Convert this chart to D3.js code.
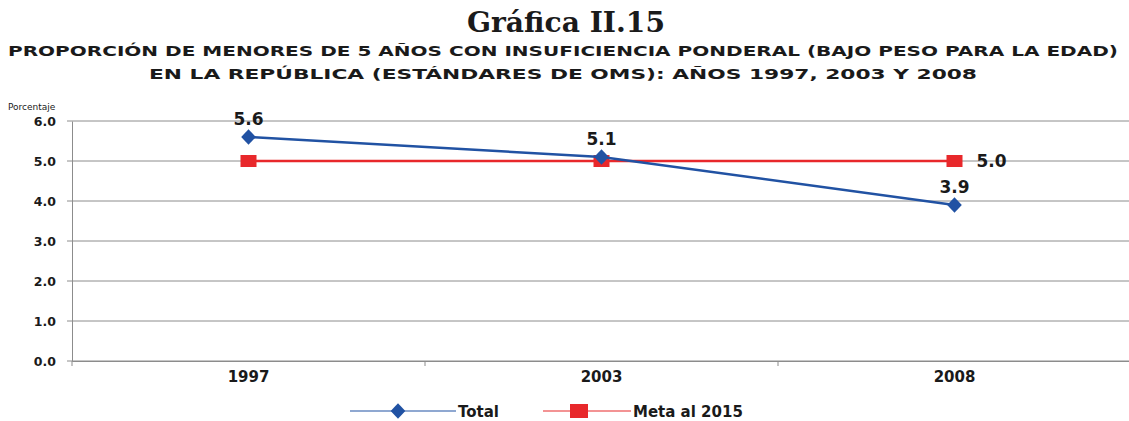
<!DOCTYPE html>
<html>
<head>
<meta charset="utf-8">
<script src="https://cdn.jsdelivr.net/npm/d3@7"></script>
<style>
  body { margin: 0; background: #fff; }
  text { font-family: "DejaVu Sans", Verdana, sans-serif; fill: #1a1a1a; }
</style>
</head>
<body>
<script>
// chart data
const years = ['1997', '2003', '2008'];
const totalValues = [5.6, 5.1, 3.9];
const metaValues = [5.0, 5.0, 5.0];
const yTicks = [0, 1, 2, 3, 4, 5, 6];

const W = 1129, H = 421;
const M = { left: 72, right: -2, top: 121, bottom: 60 };
const innerW = W - M.left - M.right;
const innerH = H - M.top - M.bottom;

const svg = d3.select('body').append('svg')
    .attr('width', W)
    .attr('height', H);

// titles
svg.append('text')
    .attr('x', 566).attr('y', 32)
    .attr('text-anchor', 'middle')
    .attr('textLength', 198)
    .attr('lengthAdjust', 'spacingAndGlyphs')
    .style('font-family', '"DejaVu Serif", serif')
    .style('font-weight', 'bold')
    .style('font-size', '27px')
    .text('Gráfica II.15');

const subtitle = [
    'PROPORCIÓN DE MENORES DE 5 AÑOS CON INSUFICIENCIA PONDERAL (BAJO PESO PARA LA EDAD)',
    'EN LA REPÚBLICA (ESTÁNDARES DE OMS): AÑOS 1997, 2003 Y 2008'
];
const subWidths = [1110, 828];
subtitle.forEach((s, i) => {
    svg.append('text')
        .attr('x', 563).attr('y', 56 + i * 23)
        .attr('text-anchor', 'middle')
        .attr('textLength', subWidths[i])
        .attr('lengthAdjust', 'spacingAndGlyphs')
        .style('font-weight', 'bold')
        .style('font-size', '14.5px')
        .text(s);
});

svg.append('text')
    .attr('x', 8).attr('y', 110)
    .style('font-size', '9px')
    .text('Porcentaje');

const g = svg.append('g').attr('transform', `translate(${M.left},${M.top})`);

const x = d3.scaleBand().domain(years).range([0, innerW]);
const y = d3.scaleLinear().domain([0, 6]).range([innerH, 0]);

// gridlines
g.append('g')
    .selectAll('line')
    .data(yTicks)
    .join('line')
    .attr('x1', -5).attr('x2', innerW)
    .attr('y1', d => y(d)).attr('y2', d => y(d))
    .attr('stroke', '#8c8c8c')
    .attr('stroke-width', 1);

// y axis
const yAxis = g.append('g')
    .call(d3.axisLeft(y).tickValues(yTicks).tickFormat(d3.format('.1f')).tickSize(0).tickPadding(16));
yAxis.select('.domain').attr('stroke', '#8c8c8c');
yAxis.selectAll('text')
    .style('font-weight', 'bold')
    .style('font-size', '12.5px')
    .attr('dy', '0.35em');

// x axis
const xAxis = g.append('g')
    .attr('transform', `translate(0,${innerH})`)
    .call(d3.axisBottom(x).tickSize(0).tickPadding(10));
xAxis.select('.domain').attr('stroke', '#8c8c8c');
xAxis.selectAll('text')
    .style('font-weight', 'bold')
    .style('font-size', '15px');
g.append('g')
    .selectAll('line')
    .data(d3.range(years.length + 1))
    .join('line')
    .attr('x1', d => d * x.bandwidth()).attr('x2', d => d * x.bandwidth())
    .attr('y1', innerH).attr('y2', innerH + 5)
    .attr('stroke', '#8c8c8c');

const cx = d => x(d) + x.bandwidth() / 2;
const line = d3.line().x(d => cx(d[0])).y(d => y(d[1]));

const totalColor = '#2152a3';
const metaColor = '#e8282b';

// Meta series
const metaData = years.map((yr, i) => [yr, metaValues[i]]);
g.append('path')
    .datum(metaData)
    .attr('d', line)
    .attr('fill', 'none')
    .attr('stroke', metaColor)
    .attr('stroke-width', 2.5);
g.selectAll('.meta-pt')
    .data(metaData)
    .join('rect')
    .attr('class', 'meta-pt')
    .attr('x', d => cx(d[0]) - 8)
    .attr('y', d => y(d[1]) - 6)
    .attr('width', 16).attr('height', 12)
    .attr('fill', metaColor);

// Total series
const totalData = years.map((yr, i) => [yr, totalValues[i]]);
g.append('path')
    .datum(totalData)
    .attr('d', line)
    .attr('fill', 'none')
    .attr('stroke', totalColor)
    .attr('stroke-width', 2.5);
const diamond = d3.symbol().type(d3.symbolDiamond).size(110);
g.selectAll('.total-pt')
    .data(totalData)
    .join('path')
    .attr('class', 'total-pt')
    .attr('d', diamond)
    .attr('transform', d => `translate(${cx(d[0])},${y(d[1])}) scale(1.3,0.8)`)
    .attr('fill', totalColor);

// data labels
g.selectAll('.total-lbl')
    .data(totalData)
    .join('text')
    .attr('class', 'total-lbl')
    .attr('x', d => cx(d[0]))
    .attr('y', d => y(d[1]) - 12)
    .attr('text-anchor', 'middle')
    .style('font-size', '17px')
    .style('font-weight', 'bold')
    .text(d => d3.format('.1f')(d[1]));

const lastMeta = metaData[metaData.length - 1];
g.append('text')
    .attr('x', cx(lastMeta[0]) + 22)
    .attr('y', y(lastMeta[1]) + 6)
    .style('font-size', '17px')
    .style('font-weight', 'bold')
    .text(d3.format('.1f')(lastMeta[1]));

// legend
const legend = svg.append('g').attr('transform', 'translate(0,411)');
legend.append('line')
    .attr('x1', 350).attr('x2', 456).attr('y1', 0).attr('y2', 0)
    .attr('stroke', totalColor).attr('stroke-width', 1.2);
legend.append('path')
    .attr('d', diamond)
    .attr('transform', 'translate(398,0) scale(1.3,0.8)')
    .attr('fill', totalColor);
legend.append('text')
    .attr('x', 458).attr('y', 6)
    .style('font-size', '15px').style('font-weight', 'bold')
    .text('Total');

legend.append('line')
    .attr('x1', 543).attr('x2', 631).attr('y1', 0).attr('y2', 0)
    .attr('stroke', metaColor).attr('stroke-width', 1.2);
legend.append('rect')
    .attr('x', 570).attr('y', -7).attr('width', 18).attr('height', 14)
    .attr('fill', metaColor);
legend.append('text')
    .attr('x', 633).attr('y', 6)
    .style('font-size', '15px').style('font-weight', 'bold')
    .text('Meta al 2015');
</script>
</body>
</html>
